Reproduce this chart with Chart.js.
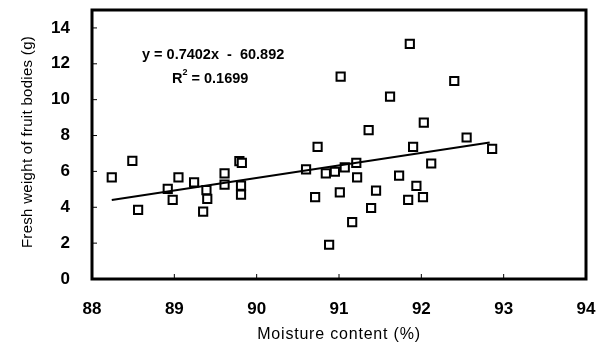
<!DOCTYPE html>
<html>
<head>
<meta charset="utf-8">
<script src="https://cdn.jsdelivr.net/npm/chart.js@4.4.1/dist/chart.umd.min.js"></script>
<style>
  html, body { margin:0; padding:0; background:#fff; }
  #wrap { position:relative; width:605px; height:347px; }
</style>
</head>
<body>
<div id="wrap"><canvas id="c"></canvas></div>
<script>
// moisture content (%) vs fresh weight (g)
const moisture = [
  88.24, 88.49, 88.56, 88.92, 88.98, 89.05, 89.24, 89.39, 89.40, 89.35,
  89.61, 89.61, 89.79, 89.82, 89.81, 89.81, 90.60, 90.74, 90.71, 90.84,
  90.95, 90.88, 91.07, 91.01, 91.02, 91.16, 91.21, 91.22, 91.36, 91.39,
  91.45, 91.62, 91.73, 91.86, 91.90, 91.84, 91.94, 92.02, 92.03, 92.12,
  92.40, 92.55, 92.86
];
const freshWeight = [
  5.67, 6.59, 3.85, 5.02, 4.41, 5.67, 5.39, 4.96, 4.47, 3.76,
  5.89, 5.26, 6.57, 6.48, 5.21, 4.71, 6.11, 7.37, 4.56, 5.89,
  5.98, 1.91, 6.22, 4.83, 11.28, 3.17, 6.47, 5.67, 8.30, 3.96,
  4.93, 10.17, 5.76, 13.11, 7.37, 4.41, 5.19, 4.56, 8.72, 6.44,
  11.04, 7.89, 7.26
];

// regression as printed, and the drawn line's end points as read
const slope = 0.7402;
const intercept = -60.892;
const r2 = 0.1699;
const trendX = [88.24, 92.83];
const trendY = [4.41, 7.61];

const xTicks = [88, 89, 90, 91, 92, 93, 94];
const yTicks = [0, 2, 4, 6, 8, 10, 12, 14];
const xTitle = 'Moisture content (%)';
const yTitle = 'Fresh weight of fruit bodies (g)';

const points = moisture.map((m, i) => ({ x: m, y: freshWeight[i] }));
const trend = trendX.map((x, i) => ({ x, y: trendY[i] }));

const FONT = "'Liberation Sans', Arial, sans-serif";

const frame = {
  id: 'frame',
  afterDraw(chart) {
    const { ctx, chartArea: a, scales } = chart;
    ctx.save();
    ctx.strokeStyle = '#000';
    // inner tick marks
    ctx.lineWidth = 1;
    ctx.beginPath();
    yTicks.forEach(v => {
      const y = scales.y.getPixelForValue(v);
      ctx.moveTo(a.left, y); ctx.lineTo(a.left + 5, y);
    });
    xTicks.forEach(v => {
      const x = scales.x.getPixelForValue(v);
      ctx.moveTo(x, a.bottom); ctx.lineTo(x, a.bottom - 5);
    });
    ctx.stroke();
    // heavy box
    ctx.lineWidth = 3;
    ctx.strokeRect(a.left, a.top, a.right - a.left, a.bottom - a.top);

    ctx.fillStyle = '#000';
    ctx.textBaseline = 'middle';

    // axis titles (drawn here for the wider letter spacing)
    ctx.textAlign = 'center';
    ctx.font = '16px ' + FONT;
    ctx.letterSpacing = '0.8px';
    ctx.fillText(xTitle, (a.left + a.right) / 2, 335);
    ctx.save();
    ctx.translate(28, 142);
    ctx.rotate(-Math.PI / 2);
    ctx.font = '15px ' + FONT;
    ctx.letterSpacing = '0.3px';
    ctx.fillText(yTitle, 0, 0);
    ctx.restore();
    ctx.letterSpacing = '0px';

    // regression label
    ctx.textAlign = 'left';
    ctx.font = 'bold 14.5px ' + FONT;
    ctx.fillText('y = ' + slope + 'x  -  ' + Math.abs(intercept), 142, 55);
    ctx.fillText('R', 172, 79);
    const rw = ctx.measureText('R').width;
    ctx.font = 'bold 9px ' + FONT;
    ctx.fillText('2', 172 + rw, 73);
    const sw = ctx.measureText('2').width;
    ctx.font = 'bold 14.5px ' + FONT;
    ctx.fillText(' = ' + r2, 172 + rw + sw, 79);
    ctx.restore();
  }
};

new Chart(document.getElementById('c'), {
  type: 'scatter',
  data: {
    datasets: [
      {
        type: 'line',
        label: 'trend',
        data: trend,
        borderColor: '#000',
        borderWidth: 2,
        pointRadius: 0,
        fill: false
      },
      {
        label: 'fresh weight',
        data: points,
        pointStyle: 'rect',
        pointRadius: 5.8,
        pointBorderWidth: 2,
        pointBorderColor: '#000',
        pointBackgroundColor: '#fff'
      }
    ]
  },
  options: {
    responsive: true,
    maintainAspectRatio: false,
    animation: false,
    layout: { padding: { top: 10, right: 19, left: 0, bottom: 0 } },
    plugins: { legend: { display: false }, tooltip: { enabled: false } },
    scales: {
      x: {
        type: 'linear',
        min: 88, max: 94,
        afterBuildTicks: s => { s.ticks = xTicks.map(v => ({ value: v })); },
        afterFit: s => { s.height = 68; s.paddingLeft = 0; s.paddingRight = 0; },
        grid: { display: false, drawTicks: false },
        border: { display: false },
        ticks: { padding: 20, color: '#000', font: { family: FONT, size: 17, weight: 'bold' } }
      },
      y: {
        min: 0, max: 15,
        afterBuildTicks: s => { s.ticks = yTicks.map(v => ({ value: v })); },
        afterFit: s => { s.width = 92; s.paddingTop = 0; s.paddingBottom = 0; },
        grid: { display: false, drawTicks: false },
        border: { display: false },
        ticks: { padding: 22, color: '#000', font: { family: FONT, size: 17, weight: 'bold' } }
      }
    }
  },
  plugins: [frame]
});
</script>
</body>
</html>
